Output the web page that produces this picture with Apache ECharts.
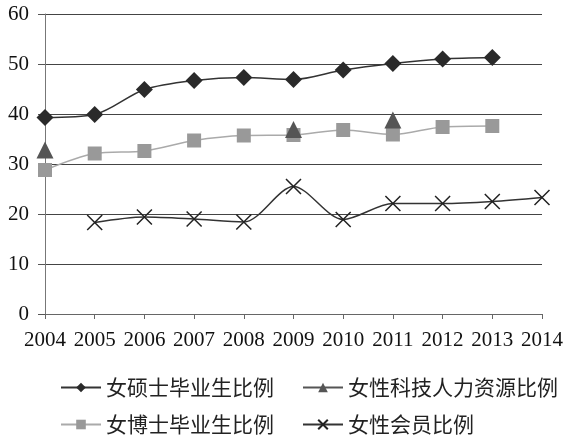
<!DOCTYPE html>
<html>
<head>
<meta charset="utf-8">
<script src="https://cdn.jsdelivr.net/npm/echarts@6/dist/echarts.min.js"></script>
<style>
  html, body { margin: 0; padding: 0; background: #fff; }
  #container { width: 566px; height: 437px; }
</style>
</head>
<body>
<div id="container"></div>
<script>
var years = ['2004', '2005', '2006', '2007', '2008', '2009', '2010', '2011', '2012', '2013', '2014'];
var masterRatio = [39.3, 39.9, 44.9, 46.7, 47.3, 46.9, 48.8, 50.1, 51.0, 51.3, null];
var techRatio = [32.8, null, null, null, null, 36.9, null, 38.8, null, null, null];
var doctorRatio = [28.8, 32.1, 32.6, 34.7, 35.7, 35.8, 36.8, 35.9, 37.4, 37.6, null];
var memberRatio = [null, 18.3, 19.4, 19.0, 18.4, 25.5, 18.9, 22.1, 22.1, 22.5, 23.3];
var names = ['女硕士毕业生比例', '女性科技人力资源比例', '女博士毕业生比例', '女性会员比例'];

var dom = document.getElementById('container');
var myChart = echarts.init(dom);
var serif = '"Liberation Serif", "DejaVu Serif", serif';
var cjk = '"Noto Sans CJK SC", sans-serif';

// one legend per item so each sits in its own cell (2 x 2)
var legendPos = [[55, 372], [297, 372], [55, 409], [297, 409]];
var legends = names.map(function (n, i) {
    return {
        left: legendPos[i][0], top: legendPos[i][1],
        itemWidth: 40, itemHeight: 12,
        textStyle: { fontFamily: cjk, fontSize: 21, color: '#222' },
        data: [n]
    };
});

var option = {
    backgroundColor: '#fff',
    animation: false,
    grid: { left: 45, right: 21, top: 14, bottom: 123 },
    legend: legends,
    xAxis: {
        type: 'category',
        data: years,
        boundaryGap: false,
        axisLine: { lineStyle: { color: '#666', width: 1 } },
        axisTick: { alignWithLabel: true, length: 5, lineStyle: { color: '#666' } },
        axisLabel: { fontFamily: serif, fontSize: 21, color: '#111', margin: 16, interval: 0 }
    },
    yAxis: {
        type: 'value',
        min: 0, max: 60, interval: 10,
        axisLine: { show: true, lineStyle: { color: '#777', width: 1 } },
        axisTick: { show: true, length: 7, lineStyle: { color: '#555' } },
        axisLabel: { fontFamily: serif, fontSize: 21, color: '#111', margin: 16 },
        splitLine: { lineStyle: { color: '#444', width: 1 } }
    },
    series: [
        {
            name: names[0], type: 'line', data: masterRatio, smooth: 0.3,
            symbol: 'diamond', symbolSize: 17, showAllSymbol: true,
            lineStyle: { color: '#333', width: 1.5 },
            itemStyle: { color: '#2a2a2a' }
        },
        {
            name: names[1], type: 'line', data: techRatio, smooth: 0.3,
            connectNulls: false, z: 5,
            symbol: 'triangle', symbolSize: 17,
            lineStyle: { color: '#555', width: 1.5 },
            itemStyle: { color: '#555' }
        },
        {
            name: names[2], type: 'line', data: doctorRatio, smooth: 0.3,
            symbol: 'rect', symbolSize: 14,
            lineStyle: { color: '#aaa', width: 1.5 },
            itemStyle: { color: '#999' }
        },
        {
            name: names[3], type: 'line', data: memberRatio, smooth: 0.3,
            symbol: 'path://M0,0L10,10M10,0L0,10', symbolSize: 15,
            lineStyle: { color: '#333', width: 1.5 },
            itemStyle: { color: 'none', borderColor: '#222', borderWidth: 1.5 }
        }
    ]
};
myChart.setOption(option, true);
</script>
</body>
</html>
